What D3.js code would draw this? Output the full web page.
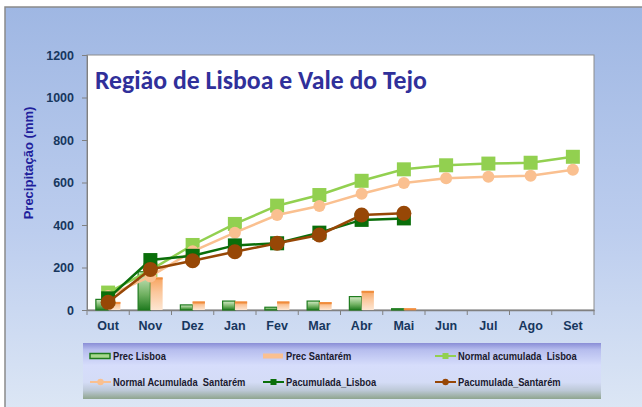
<!DOCTYPE html>
<html><head><meta charset="utf-8">
<script src="https://cdn.jsdelivr.net/npm/d3@7"></script>
<style>html,body{margin:0;padding:0;background:#fff;}svg{display:block;}</style>
</head><body>
<script>
const months = ["Out","Nov","Dez","Jan","Fev","Mar","Abr","Mai","Jun","Jul","Ago","Set"];
const yTicks = [0,200,400,600,800,1000,1200];
const precLisboa = [50,180,24,42,13,42,63,6];
const precSantarem = [38,153,40,40,40,37,90,8];
const normalLisboa = [82,188,306,405,491,541,608,662,681,689,693,721];
const normalSantarem = [66,158,276,364,447,489,547,598,620,627,632,660];
const pacumLisboa = [55,235,255,304,314,364,424,431];
const pacumSantarem = [36,191,232,274,314,353,447,455];
const titleText = "Região de Lisboa e Vale do Tejo";
const yLabel = "Precipitação (mm)";
const legendItems = [
  {name:"Prec Lisboa", type:"barL"},
  {name:"Prec Santarém", type:"barS"},
  {name:"Normal acumulada  Lisboa", type:"lineNL"},
  {name:"Normal Acumulada  Santarém", type:"lineNS"},
  {name:"Pacumulada_Lisboa", type:"linePL"},
  {name:"Pacumulada_Santarém", type:"linePS"}
];

(function(){
const W = 642, H = 407;
const svg = d3.select("body").append("svg").attr("width", W).attr("height", H);
const defs = svg.append("defs");

const bg = defs.append("linearGradient").attr("id","bg").attr("x1",0).attr("y1",0).attr("x2",0).attr("y2",1);
bg.append("stop").attr("offset","0%").attr("stop-color","#9fb7e3");
bg.append("stop").attr("offset","55%").attr("stop-color","#bccdee");
bg.append("stop").attr("offset","100%").attr("stop-color","#dde7f5");

const gL = defs.append("linearGradient").attr("id","gL").attr("x1",0).attr("y1",0).attr("x2",0).attr("y2",1);
gL.append("stop").attr("offset","0%").attr("stop-color","#d6ecc8");
gL.append("stop").attr("offset","60%").attr("stop-color","#6fb060");
gL.append("stop").attr("offset","100%").attr("stop-color","#1f7a1f");
const gS = defs.append("linearGradient").attr("id","gS").attr("x1",0).attr("y1",0).attr("x2",0).attr("y2",1);
gS.append("stop").attr("offset","0%").attr("stop-color","#f7a35e");
gS.append("stop").attr("offset","45%").attr("stop-color","#fbc79c");
gS.append("stop").attr("offset","100%").attr("stop-color","#fde6d2");

const gLeg = defs.append("linearGradient").attr("id","gLeg").attr("x1",0).attr("y1",0).attr("x2",0).attr("y2",1);
[["0%","#8a8ed6"],["12%","#b6bdee"],["40%","#d6ddfb"],["70%","#d4dcf6"],["85%","#bcc8d6"],["100%","#8fa58e"]]
  .forEach(([o,c]) => gLeg.append("stop").attr("offset",o).attr("stop-color",c));

svg.append("rect").attr("x",5).attr("y",7).attr("width",W).attr("height",H)
  .attr("fill","url(#bg)").attr("stroke","#8a8a8a").attr("stroke-width",1.5);

const pL = 87, pR = 594, pT = 55, pB = 310;
svg.append("rect").attr("x",pL).attr("y",pT).attr("width",pR-pL).attr("height",pB-pT)
  .attr("fill","#fff").attr("stroke","#8c8c8c").attr("stroke-width",1);

const x = d3.scaleBand().domain(months).range([pL,pR]).padding(0);
const y = d3.scaleLinear().domain([0,1200]).range([pB,pT]);
const bw = x.bandwidth()*0.29;
const cx = m => x(m) + x.bandwidth()/2;

const yAxis = svg.append("g").attr("transform",`translate(${pL},0)`)
  .call(d3.axisLeft(y).tickValues(yTicks).tickSize(5).tickPadding(8).tickFormat(d3.format("d")));
yAxis.select(".domain").attr("stroke","#808080");
yAxis.selectAll(".tick line").attr("stroke","#808080");
yAxis.selectAll("text").attr("font-family","Arial, 'Liberation Sans', sans-serif").attr("font-weight","bold")
  .attr("font-size","12.5px").attr("fill","#17375e");

const xAxis = svg.append("g").attr("transform",`translate(0,${pB})`)
  .call(d3.axisBottom(x).tickSize(0).tickPadding(11));
xAxis.select(".domain").attr("stroke","#808080").attr("stroke-width",1.5);
xAxis.selectAll("text").attr("font-family","Arial, 'Liberation Sans', sans-serif").attr("font-weight","bold")
  .attr("font-size","12.5px").attr("fill","#17375e");
const bounds = months.map(m => x(m)).concat([pR]);
svg.append("g").selectAll("line").data(bounds).join("line")
  .attr("x1",d=>d).attr("x2",d=>d).attr("y1",pB).attr("y2",pB+5).attr("stroke","#808080");

svg.append("g").selectAll("rect").data(precLisboa).join("rect")
  .attr("x",(d,i)=>cx(months[i])-bw).attr("width",bw)
  .attr("y",d=>y(d)).attr("height",d=>pB-y(d))
  .attr("fill","url(#gL)").attr("stroke","#1e7b1e").attr("stroke-width",1.2);
svg.append("g").selectAll("rect").data(precSantarem).join("rect")
  .attr("x",(d,i)=>cx(months[i])).attr("width",bw)
  .attr("y",d=>y(d)).attr("height",d=>pB-y(d))
  .attr("fill","url(#gS)");
svg.append("g").selectAll("rect").data(precSantarem).join("rect")
  .attr("x",(d,i)=>cx(months[i])).attr("width",bw)
  .attr("y",d=>y(d)).attr("height",2).attr("fill","#f08c3c");

function series(data, color, width, marker, size) {
  const g = svg.append("g");
  g.append("path").datum(data)
    .attr("d", d3.line().x((d,i)=>cx(months[i])).y(d=>y(d)))
    .attr("fill","none").attr("stroke",color).attr("stroke-width",width);
  if (marker === "square") {
    g.selectAll("rect").data(data).join("rect")
      .attr("x",(d,i)=>cx(months[i])-size/2).attr("y",d=>y(d)-size/2)
      .attr("width",size).attr("height",size).attr("fill",color);
  } else {
    g.selectAll("circle").data(data).join("circle")
      .attr("cx",(d,i)=>cx(months[i])).attr("cy",d=>y(d)).attr("r",size/2).attr("fill",color);
  }
}
series(normalLisboa, "#92d050", 2.5, "square", 14);
series(normalSantarem, "#fac090", 2.5, "circle", 12);
series(pacumLisboa, "#0a6e0a", 2.5, "square", 14);
series(pacumSantarem, "#974706", 2.5, "circle", 15);

const t = svg.append("text").attr("x",95).attr("y",89).text(titleText)
  .attr("font-family","Carlito, Calibri, 'Open Sans', Lato, sans-serif").attr("font-size","24px")
  .attr("font-weight","600").attr("fill","#30309a");
const tl = t.node().getComputedTextLength();
t.attr("font-size", (24*332/tl).toFixed(2)+"px");

svg.append("text").attr("transform","translate(33,163) rotate(-90)").attr("text-anchor","middle")
  .attr("font-family","Arial, 'Liberation Sans', sans-serif").attr("font-weight","bold").attr("font-size","13px")
  .attr("fill","#1f1f9c").text(yLabel);

const lg = svg.append("g");
lg.append("rect").attr("x",83).attr("y",343).attr("width",518).attr("height",56).attr("fill","url(#gLeg)");
const colX = [90, 263, 435];
const rowY = [356, 382];
legendItems.forEach((it,i) => {
  const c = i%3, r = Math.floor(i/3);
  const sx = colX[c], sy = rowY[r];
  const g = lg.append("g");
  if (it.type === "barL") {
    g.append("rect").attr("x",sx).attr("y",sy-2.5).attr("width",20).attr("height",5)
      .attr("fill","#a6d88e").attr("stroke","#1e7b1e").attr("stroke-width",1.5);
  } else if (it.type === "barS") {
    g.append("rect").attr("x",sx).attr("y",sy-2.5).attr("width",20).attr("height",5).attr("fill","#fac090");
  } else {
    const cfg = {lineNL:["#92d050","sq"], lineNS:["#fac090","ci"], linePL:["#0a6e0a","sq"], linePS:["#974706","ci"]}[it.type];
    g.append("line").attr("x1",sx).attr("x2",sx+21).attr("y1",sy).attr("y2",sy).attr("stroke",cfg[0]).attr("stroke-width",2);
    if (cfg[1]==="sq") g.append("rect").attr("x",sx+10.5-3).attr("y",sy-3).attr("width",6).attr("height",6).attr("fill",cfg[0]);
    else g.append("circle").attr("cx",sx+10.5).attr("cy",sy).attr("r",3.2).attr("fill",cfg[0]);
  }
  g.append("text").attr("transform",`translate(${sx+23},${sy+3.5}) scale(0.89,1)`)
    .attr("xml:space","preserve").style("white-space","pre")
    .attr("font-family","'Liberation Sans Narrow', 'Arial Narrow', Arial, sans-serif").attr("font-weight","bold")
    .attr("font-size","10.5px").attr("fill","#1a1a2e").text(it.name);
});
})();
</script>
</body></html>
